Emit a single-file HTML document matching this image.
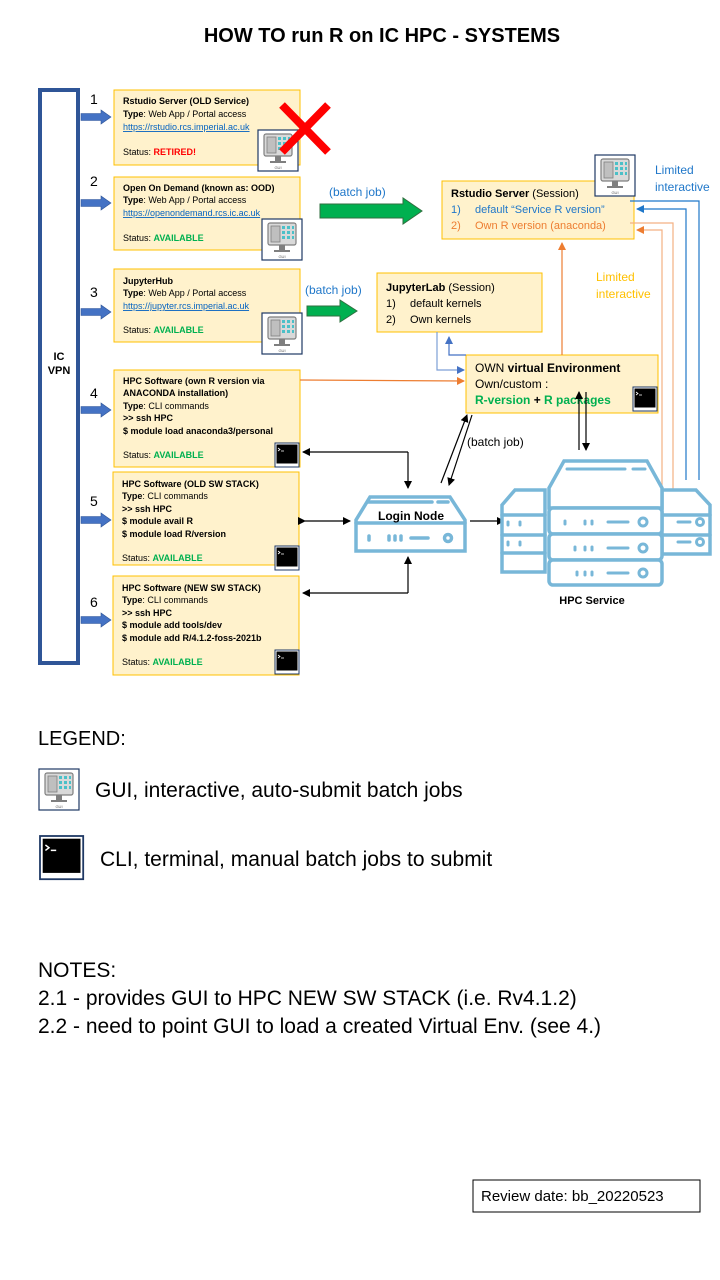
<!DOCTYPE html>
<html><head><meta charset="utf-8"><style>
html,body{margin:0;padding:0;background:#fff}
svg{display:block}
text{font-family:"Liberation Sans",sans-serif}
</style></head><body>
<svg width="720" height="1280" viewBox="0 0 720 1280" xmlns="http://www.w3.org/2000/svg">
<defs>
<marker id="ak" markerWidth="8" markerHeight="8" refX="7" refY="4" orient="auto" markerUnits="userSpaceOnUse"><path d="M0,0 L8,4 L0,8 z" fill="#000"/></marker>
<marker id="ab" markerWidth="8" markerHeight="8" refX="7" refY="4" orient="auto" markerUnits="userSpaceOnUse"><path d="M0,0 L8,4 L0,8 z" fill="#1f77c9"/></marker>
<marker id="ao" markerWidth="8" markerHeight="8" refX="7" refY="4" orient="auto" markerUnits="userSpaceOnUse"><path d="M0,0 L8,4 L0,8 z" fill="#ed7d31"/></marker>
<marker id="al" markerWidth="8" markerHeight="8" refX="7" refY="4" orient="auto" markerUnits="userSpaceOnUse"><path d="M0,0 L8,4 L0,8 z" fill="#4472c4"/></marker>
<g id="gui">
<rect x="0" y="0" width="40" height="41" fill="#fff" stroke="#1f3864" stroke-width="1.2"/>
<rect x="6" y="4" width="28" height="22" rx="2" fill="#d9d9d9" stroke="#7f7f7f" stroke-width="1.2"/>
<rect x="9" y="7" width="9" height="16" fill="#bfbfbf" stroke="#7f7f7f" stroke-width="0.8"/>
<g fill="#4bc0c8"><rect x="20" y="7" width="3" height="3"/><rect x="25" y="7" width="3" height="3"/><rect x="30" y="7" width="2" height="3"/><rect x="20" y="12" width="3" height="3"/><rect x="25" y="12" width="3" height="3"/><rect x="30" y="12" width="2" height="3"/><rect x="20" y="17" width="3" height="3"/><rect x="25" y="17" width="3" height="3"/><rect x="30" y="17" width="2" height="3"/></g>
<rect x="17" y="26" width="6" height="5" fill="#7f7f7f"/><rect x="12" y="31" width="16" height="2" fill="#7f7f7f"/>
<text x="20" y="39" font-size="4" text-anchor="middle" fill="#555">GUI</text>
</g>
<g id="term">
<rect x="0" y="0" width="24" height="24" fill="#fff" stroke="#1f3864" stroke-width="1"/>
<rect x="1.5" y="1.5" width="21" height="19" fill="#000"/>
<path d="M3,5 L5,6.5 L3,8 M6,8 L9,8" stroke="#fff" stroke-width="0.8" fill="none"/>
</g>
<g id="barrow"><path d="M0,-3.5 L20,-3.5 L20,-7 L30,0 L20,7 L20,3.5 L0,3.5 z" fill="#4472c4" stroke="#2f5597" stroke-width="0.6"/></g>
</defs>

<text x="382" y="42" font-size="20" font-weight="bold" text-anchor="middle">HOW TO run R on IC HPC - SYSTEMS</text>

<rect x="40" y="90" width="38" height="573" fill="#fff" stroke="#2f5597" stroke-width="4"/>
<text x="59" y="360" font-size="11" font-weight="bold" text-anchor="middle">IC</text>
<text x="59" y="374" font-size="11" font-weight="bold" text-anchor="middle">VPN</text>

<g font-size="14">
<text x="90" y="104">1</text><text x="90" y="186">2</text><text x="90" y="297">3</text>
<text x="90" y="398">4</text><text x="90" y="506">5</text><text x="90" y="607">6</text>
</g>
<use href="#barrow" x="81" y="117"/><use href="#barrow" x="81" y="203"/><use href="#barrow" x="81" y="312"/>
<use href="#barrow" x="81" y="410"/><use href="#barrow" x="81" y="520"/><use href="#barrow" x="81" y="620"/>

<g fill="#fff2cc" stroke="#ffc000" stroke-width="1">
<rect x="114" y="90" width="186" height="75"/>
<rect x="114" y="177" width="186" height="73"/>
<rect x="114" y="269" width="186" height="73"/>
<rect x="114" y="370" width="186" height="97"/>
<rect x="113" y="472" width="186" height="93"/>
<rect x="113" y="576" width="186" height="99"/>
</g>
<g font-size="9">
<text x="123" y="104" font-weight="bold">Rstudio Server (OLD Service)</text>
<text x="123" y="117"><tspan font-weight="bold">Type</tspan>: Web App / Portal access</text>
<text x="123" y="130" fill="#0563c1" text-decoration="underline">https://rstudio.rcs.imperial.ac.uk</text>
<text x="123" y="155">Status: <tspan fill="#ff0000" font-weight="bold">RETIRED!</tspan></text>

<text x="123" y="191" font-weight="bold">Open On Demand (known as: OOD)</text>
<text x="123" y="203"><tspan font-weight="bold">Type</tspan>: Web App / Portal access</text>
<text x="123" y="216" fill="#0563c1" text-decoration="underline">https://openondemand.rcs.ic.ac.uk</text>
<text x="123" y="241">Status: <tspan fill="#00b050" font-weight="bold">AVAILABLE</tspan></text>

<text x="123" y="284" font-weight="bold">JupyterHub</text>
<text x="123" y="296"><tspan font-weight="bold">Type</tspan>: Web App / Portal access</text>
<text x="123" y="309" fill="#0563c1" text-decoration="underline">https://jupyter.rcs.imperial.ac.uk</text>
<text x="123" y="333">Status: <tspan fill="#00b050" font-weight="bold">AVAILABLE</tspan></text>

<text x="123" y="384" font-weight="bold">HPC Software (own R version via</text>
<text x="123" y="396" font-weight="bold">ANACONDA installation)</text>
<text x="123" y="409"><tspan font-weight="bold">Type</tspan>: CLI commands</text>
<text x="123" y="421" font-weight="bold">&gt;&gt; ssh HPC</text>
<text x="123" y="434" font-weight="bold">$ module load anaconda3/personal</text>
<text x="123" y="458">Status: <tspan fill="#00b050" font-weight="bold">AVAILABLE</tspan></text>

<text x="122" y="487" font-weight="bold">HPC Software (OLD SW STACK)</text>
<text x="122" y="499"><tspan font-weight="bold">Type</tspan>: CLI commands</text>
<text x="122" y="512" font-weight="bold">&gt;&gt; ssh HPC</text>
<text x="122" y="524" font-weight="bold">$ module avail R</text>
<text x="122" y="537" font-weight="bold">$ module load R/version</text>
<text x="122" y="561">Status: <tspan fill="#00b050" font-weight="bold">AVAILABLE</tspan></text>

<text x="122" y="591" font-weight="bold">HPC Software (NEW SW STACK)</text>
<text x="122" y="603"><tspan font-weight="bold">Type</tspan>: CLI commands</text>
<text x="122" y="616" font-weight="bold">&gt;&gt; ssh HPC</text>
<text x="122" y="628" font-weight="bold">$ module add tools/dev</text>
<text x="122" y="641" font-weight="bold">$ module add R/4.1.2-foss-2021b</text>
<text x="122" y="665">Status: <tspan fill="#00b050" font-weight="bold">AVAILABLE</tspan></text>
</g>

<use href="#gui" x="258" y="130"/>
<path d="M282,105 L328,152 M328,105 L282,152" stroke="#ff0000" stroke-width="8"/>
<use href="#gui" x="262" y="219"/>
<use href="#gui" x="262" y="313"/>
<use href="#term" x="275" y="443"/>
<use href="#term" x="275" y="546"/>
<use href="#term" x="275" y="650"/>

<!-- green arrows -->
<path d="M320,204 L403,204 L403,198 L422,211 L403,224 L403,218 L320,218 z" fill="#00b050" stroke="#2f6f3f" stroke-width="1"/>
<path d="M307,306 L340,306 L340,300 L357,311 L340,322 L340,316 L307,316 z" fill="#00b050" stroke="#2f6f3f" stroke-width="1"/>
<text x="329" y="196" font-size="12" fill="#1f77c9">(batch job)</text>
<text x="305" y="294" font-size="12" fill="#1f77c9">(batch job)</text>

<!-- Rstudio session -->
<rect x="442" y="181" width="192" height="58" fill="#fff2cc" stroke="#ffc000"/>
<text x="451" y="197" font-size="11"><tspan font-weight="bold">Rstudio Server</tspan> (Session)</text>
<text x="451" y="213" font-size="11" fill="#1f77c9">1)</text><text x="475" y="213" font-size="11" fill="#1f77c9">default “Service R version”</text>
<text x="451" y="229" font-size="11" fill="#ed7d31">2)</text><text x="475" y="229" font-size="11" fill="#ed7d31">Own R version (anaconda)</text>
<use href="#gui" x="595" y="155"/>
<text x="655" y="174" font-size="12" fill="#1f77c9">Limited</text>
<text x="655" y="191" font-size="12" fill="#1f77c9">interactive</text>
<text x="596" y="281" font-size="12" fill="#ffc000">Limited</text>
<text x="596" y="298" font-size="12" fill="#ffc000">interactive</text>

<!-- Jupyter -->
<rect x="377" y="273" width="165" height="59" fill="#fff2cc" stroke="#ffc000"/>
<text x="386" y="291" font-size="11"><tspan font-weight="bold">JupyterLab</tspan> (Session)</text>
<text x="386" y="307" font-size="11">1)</text><text x="410" y="307" font-size="11">default kernels</text>
<text x="386" y="323" font-size="11">2)</text><text x="410" y="323" font-size="11">Own kernels</text>

<!-- venv -->
<rect x="466" y="355" width="192" height="58" fill="#fff2cc" stroke="#ffc000"/>
<text x="475" y="372" font-size="12">OWN <tspan font-weight="bold">virtual Environment</tspan></text>
<text x="475" y="388" font-size="12">Own/custom :</text>
<text x="475" y="404" font-size="12" font-weight="bold" fill="#00b050">R-version <tspan fill="#000">+</tspan> R packages</text>
<use href="#term" x="633" y="387"/>

<!-- connectors -->
<g fill="none" stroke-width="1.2">
<path d="M300,380 L464,381" stroke="#ed7d31" marker-end="url(#ao)"/>
<path d="M562,355 L562,243" stroke="#ed7d31" marker-end="url(#ao)"/>
<path d="M437,332 L437,370 L464,370" stroke="#7d9fd6" marker-end="url(#al)"/>
<path d="M466,355 L449,355 L449,337" stroke="#4472c4" marker-end="url(#al)"/>
<path d="M630,201 L699,201 L699,480" stroke="#1f77c9"/>
<path d="M686,480 L686,209 L637,209" stroke="#1f77c9" marker-end="url(#ab)"/>
<path d="M630,223 L673,223 L673,488 L673,508" stroke="#f4b183" marker-end="url(#ao)"/>
<path d="M662,488 L662,230 L637,230" stroke="#f4b183" marker-end="url(#ao)"/>
<path d="M579,450 L579,392" stroke="#000" marker-end="url(#ak)"/>
<path d="M586,392 L586,450" stroke="#000" marker-end="url(#ak)"/>
<path d="M441,483 L467,415" stroke="#000" marker-end="url(#ak)"/>
<path d="M472,415 L449,485" stroke="#000" marker-end="url(#ak)"/>
<path d="M408,452 L303,452" stroke="#000" marker-end="url(#ak)"/>
<path d="M408,452 L408,488" stroke="#000" marker-end="url(#ak)"/>
<path d="M305,521 L350,521" stroke="#000" marker-end="url(#ak)" marker-start="url(#ak)"/>
<path d="M408,593 L408,557" stroke="#000" marker-end="url(#ak)"/>
<path d="M408,593 L303,593" stroke="#000" marker-end="url(#ak)"/>
<path d="M470,521 L504,521" stroke="#000" marker-end="url(#ak)"/>
</g>
<text x="467" y="446" font-size="12">(batch job)</text>

<!-- login node -->
<g fill="none" stroke="#78b7d8" stroke-width="3.5" stroke-linecap="round">
<path d="M370,497 L450,497 L465,520 L465,551 L356,551 L356,520 z"/>
<line x1="356" y1="523" x2="465" y2="523"/>
<line x1="368" y1="502" x2="432" y2="502"/><line x1="438" y1="502" x2="448" y2="502"/>
<line x1="369" y1="536" x2="369" y2="540"/><line x1="389" y1="536" x2="389" y2="540"/><line x1="395" y1="536" x2="395" y2="540"/><line x1="401" y1="536" x2="401" y2="540"/><line x1="411" y1="538" x2="428" y2="538"/>
<circle cx="448" cy="538" r="3.5"/>
</g>
<text x="411" y="520" font-size="12" font-weight="bold" text-anchor="middle">Login Node</text>

<!-- HPC servers -->
<g fill="#fff" stroke="#78b7d8" stroke-width="3.5" stroke-linecap="round">
<path d="M515,490 L545,490 L545,572 L502,572 L502,505 z"/>
<line x1="502" y1="515" x2="545" y2="515"/><line x1="502" y1="535" x2="545" y2="535"/><line x1="502" y1="553" x2="545" y2="553"/>
<path d="M662,490 L696,490 L710,505 L710,554 L662,554 z"/>
<line x1="662" y1="515" x2="710" y2="515"/><line x1="662" y1="535" x2="710" y2="535"/>
<path d="M564,461 L647,461 L662,488 L662,508 L549,508 L549,488 z"/>
<rect x="549" y="508" width="113" height="26" rx="4"/>
<rect x="549" y="534" width="113" height="26" rx="4"/>
<rect x="549" y="560" width="113" height="25" rx="4"/>
</g>
<g fill="none" stroke="#78b7d8" stroke-width="3" stroke-linecap="round">
<line x1="567" y1="469" x2="625" y2="469"/><line x1="633" y1="469" x2="645" y2="469"/>
<line x1="565" y1="521" x2="565" y2="524"/><line x1="585" y1="521" x2="585" y2="524"/><line x1="592" y1="521" x2="592" y2="524"/><line x1="608" y1="522" x2="628" y2="522"/><circle cx="643" cy="522" r="4"/>
<line x1="575" y1="547" x2="575" y2="550"/><line x1="585" y1="547" x2="585" y2="550"/><line x1="592" y1="547" x2="592" y2="550"/><line x1="608" y1="548" x2="628" y2="548"/><circle cx="643" cy="548" r="4"/>
<line x1="577" y1="572" x2="577" y2="575"/><line x1="585" y1="572" x2="585" y2="575"/><line x1="592" y1="572" x2="592" y2="575"/><line x1="608" y1="573" x2="628" y2="573"/><circle cx="643" cy="573" r="4"/>
<line x1="678" y1="522" x2="690" y2="522"/><circle cx="700" cy="522" r="3.5"/>
<line x1="678" y1="542" x2="690" y2="542"/><circle cx="700" cy="542" r="3.5"/>
<line x1="508" y1="522" x2="508" y2="525"/><line x1="520" y1="522" x2="520" y2="525"/><line x1="508" y1="542" x2="508" y2="545"/><line x1="520" y1="542" x2="520" y2="545"/>
</g>
<text x="592" y="604" font-size="11" font-weight="bold" text-anchor="middle">HPC Service</text>

<!-- legend -->
<text x="38" y="745" font-size="20">LEGEND:</text>
<use href="#gui" x="39" y="769"/>
<text x="95" y="797" font-size="21">GUI, interactive, auto-submit batch jobs</text>
<g transform="translate(40,836) scale(1.8)"><use href="#term"/></g>
<text x="100" y="866" font-size="21">CLI, terminal, manual batch jobs to submit</text>

<text x="38" y="977" font-size="21">NOTES:</text>
<text x="38" y="1005" font-size="21">2.1 - provides GUI to HPC NEW SW STACK (i.e. Rv4.1.2)</text>
<text x="38" y="1033" font-size="21">2.2 - need to point GUI to load a created Virtual Env. (see 4.)</text>

<rect x="473" y="1180" width="227" height="32" fill="#fff" stroke="#000" stroke-width="1"/>
<text x="481" y="1201" font-size="15">Review date: bb_20220523</text>
</svg>
</body></html>
